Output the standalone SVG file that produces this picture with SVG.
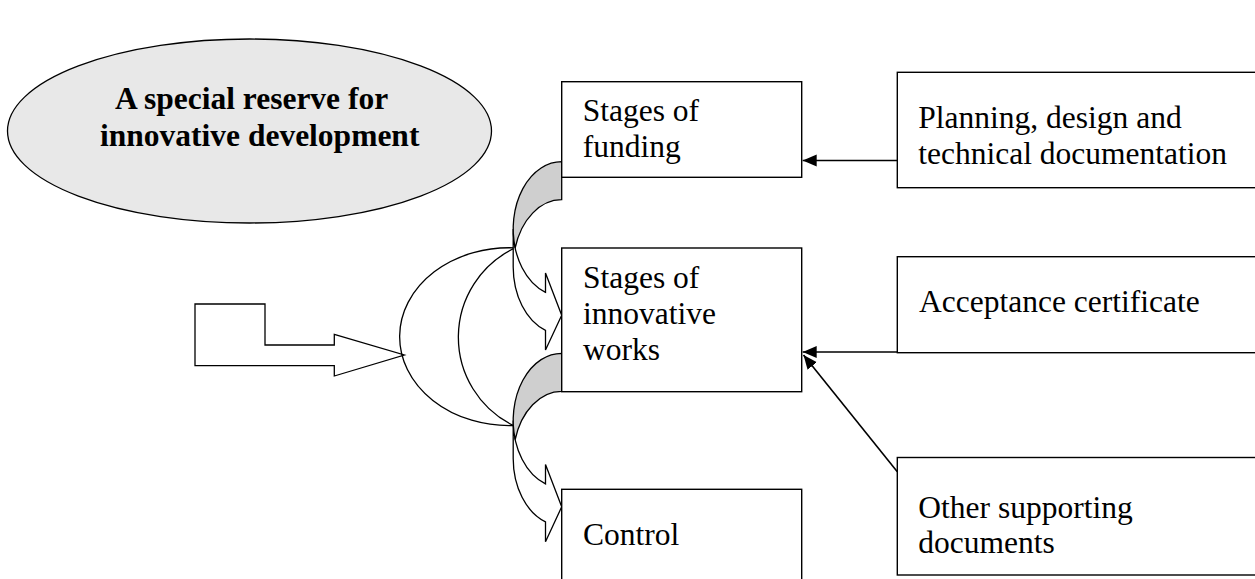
<svg xmlns="http://www.w3.org/2000/svg" xmlns:xlink="http://www.w3.org/1999/xlink" width="1255" height="579" viewBox="0 0 1255 579">
  <style>
    .box { fill: #ffffff; stroke: #000000; stroke-width: 1.4; }
    .oval { fill: #e8e8e8; stroke: #000000; stroke-width: 1.3; }
    .shape { fill: #ffffff; stroke: #000000; stroke-width: 1.3; stroke-linejoin: miter; }
    .back { fill: #cfcfcf; stroke: #000000; stroke-width: 1.3; }
    .arc { fill: none; stroke: #000000; stroke-width: 1.3; }
    .line { fill: none; stroke: #000000; stroke-width: 1.6; marker-end: url(#head); }
    .t { font-family: "Liberation Serif", "Times New Roman", serif; font-size: 31.5px; fill: #000000; }
    .tb { font-weight: bold; }
  </style>
  <defs>
    <marker id="head" markerUnits="userSpaceOnUse" markerWidth="15" markerHeight="13" refX="14" refY="6" orient="auto">
      <path d="M0,0 L14,6 L0,12 Z" fill="#000000"/>
    </marker>
    <g id="curved-arrow">
      <path class="shape" d="M-48.5,67.2 A48.5,67.2 0 0 0 -16.2,130.6 L-16.2,111.3 L0,153.5 L-16.2,188.4 L-16.2,168.6 A48.5,67.2 0 0 1 -48.5,105.2 Z"/>
      <path class="back" d="M0,0 A48.5,67.2 0 0 0 -46.52,86.2 A48.5,67.2 0 0 1 0,38 Z"/>
    </g>
  </defs>
  <rect x="0" y="0" width="1255" height="579" fill="#ffffff"/>

  <g id="flow-shapes">
    <polygon class="shape" points="195,304 265,304 265,345 334.3,345 334.3,334.3 404.3,355 334.3,376 334.3,365.7 195,365.7"/>
    <path class="arc" d="M515.2,247.9 A109.5,88.9 0 1 0 513.3,425.5"/>
    <path class="arc" d="M515.2,247.9 A98.5,98.5 0 0 0 513.3,425.5"/>
    <use xlink:href="#curved-arrow" transform="translate(561.7,161.7)"/>
    <use xlink:href="#curved-arrow" transform="translate(561.7,353.3)"/>
  </g>

  <g id="node-reserve">
    <ellipse class="oval" cx="249.5" cy="131" rx="242" ry="92"/>
    <text class="t tb" x="115" y="109">A special reserve for</text>
    <text class="t tb" x="100" y="145.5">innovative development</text>
  </g>

  <g id="node-funding">
    <rect class="box" x="561.7" y="81.7" width="240" height="95.6"/>
    <text class="t" x="582.7" y="121">Stages of</text>
    <text class="t" x="582.7" y="156.7">funding</text>
  </g>

  <g id="node-works">
    <rect class="box" x="561.7" y="248" width="240" height="143.7"/>
    <text class="t" x="583" y="288.3">Stages of</text>
    <text class="t" x="583" y="324.2">innovative</text>
    <text class="t" x="583" y="360.2">works</text>
  </g>

  <g id="node-control">
    <rect class="box" x="561.7" y="489.3" width="240" height="120"/>
    <text class="t" x="583" y="545">Control</text>
  </g>

  <g id="node-planning">
    <rect class="box" x="897.3" y="72.3" width="362" height="115.4"/>
    <text class="t" x="918.3" y="128.3">Planning, design and</text>
    <text class="t" x="918.3" y="164">technical documentation</text>
  </g>

  <g id="node-acceptance">
    <rect class="box" x="897.3" y="256.7" width="362" height="96"/>
    <text class="t" x="919" y="312">Acceptance certificate</text>
  </g>

  <g id="node-other">
    <rect class="box" x="897.3" y="457.5" width="362" height="117.5"/>
    <text class="t" x="918.3" y="518">Other supporting</text>
    <text class="t" x="918.3" y="552.5">documents</text>
  </g>

  <g id="connectors">
    <line class="line" x1="897.3" y1="160.5" x2="802.7" y2="160.5"/>
    <line class="line" x1="897.3" y1="352" x2="802.7" y2="352"/>
    <line class="line" x1="897.3" y1="471.7" x2="803.5" y2="355"/>
  </g>
</svg>
